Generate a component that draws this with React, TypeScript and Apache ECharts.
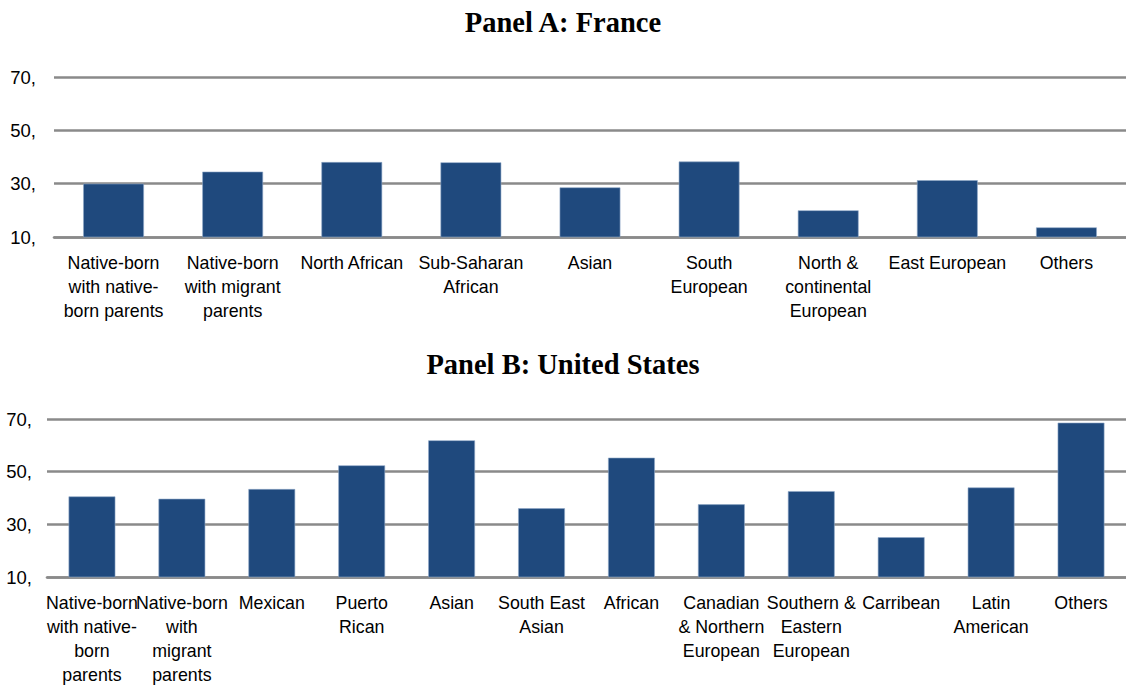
import React, { useEffect, useRef } from "react";
import * as echarts from "echarts";

const franceCategories = [
  "Native-born\nwith native-\nborn parents",
  "Native-born\nwith migrant\nparents",
  "North African",
  "Sub-Saharan\nAfrican",
  "Asian",
  "South\nEuropean",
  "North &\ncontinental\nEuropean",
  "East European",
  "Others",
];
const franceValues = [30.0, 34.5, 38.1, 38.0, 28.6, 38.3, 20.0, 31.3, 13.6];

const usCategories = [
  "Native-born\nwith native-\nborn\nparents",
  "Native-born\nwith\nmigrant\nparents",
  "Mexican",
  "Puerto\nRican",
  "Asian",
  "South East\nAsian",
  "African",
  "Canadian\n& Northern\nEuropean",
  "Southern &\nEastern\nEuropean",
  "Carribean",
  "Latin\nAmerican",
  "Others",
];
const usValues = [40.6, 39.7, 43.4, 52.4, 61.9, 36.1, 55.3, 37.6, 42.6, 25.1, 44.0, 68.6];

const yTicks = { min: 10, max: 70, interval: 20 };
const titles = ["Panel A: France", "Panel B: United States"];

const BAR = "#1f497d";
const GRID = "#8a8a8a";
const FONT = "Liberation Sans";

export default function App() {
  const ref = useRef<HTMLDivElement>(null);
  useEffect(() => {
    document.body.style.margin = "0";
    const chart = echarts.init(ref.current!, null, { renderer: "svg" });
    const yAxisBase = (idx: number, margin: number) => ({
      type: "value",
      gridIndex: idx,
      min: yTicks.min,
      max: yTicks.max,
      interval: yTicks.interval,
      axisLine: { show: false },
      axisTick: { show: false },
      axisLabel: {
        fontSize: 18.5,
        color: "#000",
        fontFamily: FONT,
        margin,
        formatter: (v: number) => `${v},`,
      },
      splitLine: { lineStyle: { color: GRID, width: 2.6 } },
    });
    const xAxisBase = (idx: number, data: string[]) => ({
      type: "category",
      gridIndex: idx,
      data,
      axisLine: { lineStyle: { color: GRID, width: 2.6 } },
      axisTick: { show: false },
      axisLabel: {
        interval: 0,
        fontSize: 17.8,
        color: "#000",
        fontFamily: FONT,
        lineHeight: 24,
        margin: 14,
      },
    });
    const titleStyle = { fontFamily: "Liberation Serif", fontWeight: "bold", fontSize: 28.5, color: "#000" };
    chart.setOption({
      animation: false,
      backgroundColor: "#fff",
      title: [
        { text: titles[0], left: "center", top: 3, textStyle: titleStyle },
        { text: titles[1], left: "center", top: 345, textStyle: titleStyle },
      ],
      grid: [
        { left: 54, right: 0, top: 77, height: 160 },
        { left: 47, right: 0, top: 419, height: 158 },
      ],
      xAxis: [xAxisBase(0, franceCategories), xAxisBase(1, usCategories)],
      yAxis: [yAxisBase(0, 18), yAxisBase(1, 15)],
      series: [
        {
          type: "bar",
          xAxisIndex: 0,
          yAxisIndex: 0,
          data: franceValues,
          barWidth: "51%",
          itemStyle: { color: BAR, borderColor: "#8fa8c8", borderWidth: 0.6 },
        },
        {
          type: "bar",
          xAxisIndex: 1,
          yAxisIndex: 1,
          data: usValues,
          barWidth: "52%",
          itemStyle: { color: BAR, borderColor: "#8fa8c8", borderWidth: 0.6 },
        },
      ],
    });
    return () => chart.dispose();
  }, []);
  return <div ref={ref} style={{ width: 1126, height: 688 }} />;
}
